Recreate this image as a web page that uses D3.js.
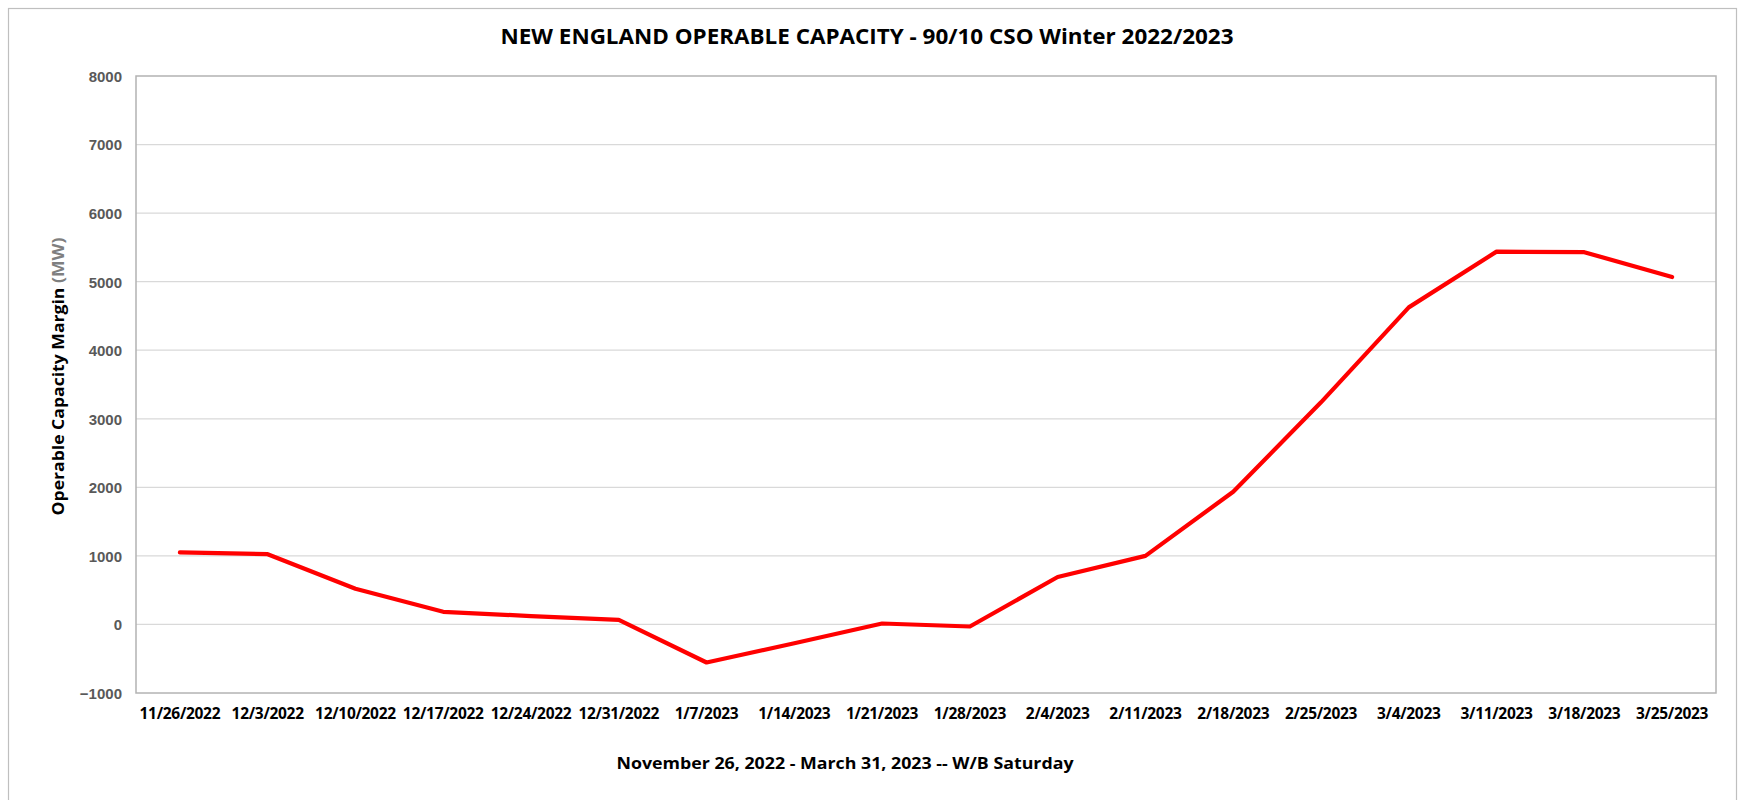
<!DOCTYPE html>
<html>
<head>
<meta charset="utf-8">
<script src="https://cdn.jsdelivr.net/npm/d3@7"></script>
<style>
  html, body { margin: 0; padding: 0; background: #fff; }
  svg { display: block; }
</style>
</head>
<body>
<svg id="chart" width="1739" height="800"></svg>
<script>
// ---- data ----
const categories = ["11/26/2022","12/3/2022","12/10/2022","12/17/2022","12/24/2022","12/31/2022",
  "1/7/2023","1/14/2023","1/21/2023","1/28/2023","2/4/2023","2/11/2023","2/18/2023","2/25/2023",
  "3/4/2023","3/11/2023","3/18/2023","3/25/2023"];
const margin = [1050, 1025, 520, 184, 122, 66, -555, -275, 14, -30, 692, 1000, 1936, 3240, 4625, 5438, 5430, 5068];
const yTicks = [-1000, 0, 1000, 2000, 3000, 4000, 5000, 6000, 7000, 8000];
const titleText = "NEW ENGLAND OPERABLE CAPACITY - 90/10 CSO Winter 2022/2023";
const xTitleText = "November 26, 2022 - March 31, 2023 -- W/B Saturday";
const yTitleMain = "Operable Capacity Margin ";
const yTitleUnit = "(MW)";

// ---- layout ----
const W = 1739, H = 800;
const plot = { left: 136, right: 1716, top: 76, bottom: 693 };
const svg = d3.select("#chart");
const font = "'Open Sans', 'DejaVu Sans', sans-serif";

// outer border
svg.append("rect").attr("x", 8.5).attr("y", 8.5).attr("width", 1728).attr("height", 800)
  .attr("fill", "#fff").attr("stroke", "#bfbfbf").attr("stroke-width", 1.2);

const x = d3.scaleBand().domain(categories).range([plot.left, plot.right]).padding(0);
const y = d3.scaleLinear().domain([-1000, 8000]).range([plot.bottom, plot.top]);

// gridlines
svg.append("g").selectAll("line").data(yTicks.filter(t => t > -1000 && t < 8000)).join("line")
  .attr("x1", plot.left).attr("x2", plot.right)
  .attr("y1", d => y(d)).attr("y2", d => y(d))
  .attr("stroke", "#d9d9d9").attr("stroke-width", 1.3);

// plot border
svg.append("rect").attr("x", plot.left).attr("y", plot.top)
  .attr("width", plot.right - plot.left).attr("height", plot.bottom - plot.top)
  .attr("fill", "none").attr("stroke", "#b3b3b3").attr("stroke-width", 1.5);

// y axis
const yAxis = d3.axisLeft(y).tickValues(yTicks).tickSize(0).tickPadding(14).tickFormat(d3.format("d"));
const gy = svg.append("g").attr("transform", `translate(${plot.left},0)`).call(yAxis);
gy.select(".domain").remove();
gy.selectAll("text").attr("font-family", "'Liberation Sans', Arial, sans-serif")
  .attr("font-size", 15).attr("font-weight", "bold").attr("fill", "#595959").attr("dy", "0.36em");

// x axis
const xAxis = d3.axisBottom(x).tickSize(0).tickPadding(15);
const gx = svg.append("g").attr("transform", `translate(0,${plot.bottom})`).call(xAxis);
gx.select(".domain").remove();
gx.selectAll("text").attr("font-family", font).attr("font-size", 15.5)
  .attr("font-weight", "bold").attr("fill", "#000").attr("letter-spacing", "-0.3");

// line
const line = d3.line().x((d, i) => x(categories[i]) + x.bandwidth() / 2).y(d => y(d));
svg.append("path").datum(margin).attr("d", line)
  .attr("fill", "none").attr("stroke", "#ff0000").attr("stroke-width", 4.2)
  .attr("stroke-linejoin", "round").attr("stroke-linecap", "round");

// title
const t = svg.append("text").attr("x", 867).attr("y", 44).attr("text-anchor", "middle")
  .attr("font-family", font).attr("font-size", 21).attr("font-weight", "bold").attr("fill", "#000")
  .text(titleText);
t.attr("textLength", 733).attr("lengthAdjust", "spacingAndGlyphs");

// x title
svg.append("text").attr("x", 845).attr("y", 769).attr("text-anchor", "middle")
  .attr("font-family", font).attr("font-size", 16.5).attr("font-weight", "bold").attr("fill", "#000")
  .attr("textLength", 457).attr("lengthAdjust", "spacingAndGlyphs")
  .text(xTitleText);

// y title
const yt = svg.append("text").attr("transform", `translate(64,${(plot.top + plot.bottom) / 2 - 8}) rotate(-90)`)
  .attr("text-anchor", "middle").attr("font-family", font).attr("font-size", 16.5)
  .attr("font-weight", "bold").attr("fill", "#000")
  .attr("textLength", 278).attr("lengthAdjust", "spacingAndGlyphs");
yt.append("tspan").text(yTitleMain);
yt.append("tspan").attr("fill", "#7f7f7f").text(yTitleUnit);
</script>
</body>
</html>
